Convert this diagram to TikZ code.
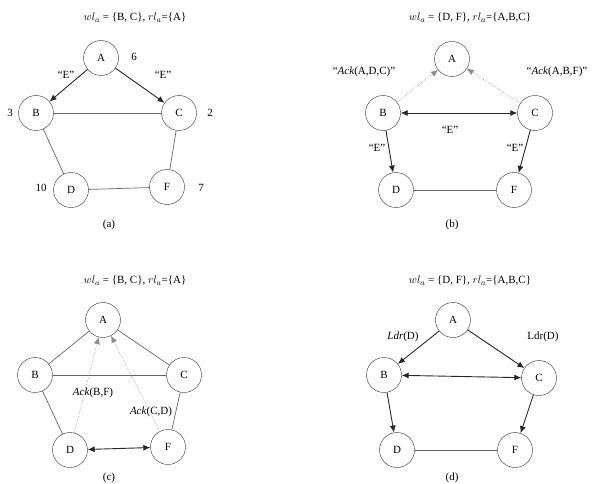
\documentclass[tikz,border=0pt]{standalone}
\usepackage{fontspec}
\setmainfont{Liberation Serif}
\usetikzlibrary{arrows.meta}
\begin{document}
\begin{tikzpicture}[x=1pt,y=-1pt,font=\fontsize{11}{13}\selectfont,
 nd/.style={circle,draw=black!80,minimum size=35pt,inner sep=0pt},
 ln/.style={draw=black!60,line width=0.7pt},
 ar/.style={draw=black!85,line width=0.9pt,-{Latex[length=7pt,width=6pt]}},
 da/.style={draw=black!85,line width=0.9pt,{Latex[length=7pt,width=6pt]}-{Latex[length=7pt,width=6pt]}},
 dt/.style={draw=black!45,line width=0.5pt,densely dotted,-{Latex[length=7pt,width=6pt]}},
 lb/.style={inner sep=1pt}]
\useasboundingbox (0,0) rectangle (605,484);
% (a)
\node[lb] (ta) at (135,18) {$wl_a$ = \{B, C\}, $rl_a$=\{A\}};
\node[nd] (aA) at (101,58) {A};
\node[nd] (aB) at (36,113) {B};
\node[nd] (aC) at (179,113) {C};
\node[nd] (aD) at (71,190) {D};
\node[nd] (aF) at (167,187) {F};
\draw[ar] (aA) -- (aB); \draw[ar] (aA) -- (aC);
\draw[ln] (aB) -- (aC); \draw[ln] (aB) -- (aD); \draw[ln] (aC) -- (aF); \draw[ln] (aD) -- (aF);
\node[lb] (a6) at (134,57) {6};
\node[lb] (a3) at (10,113) {3};
\node[lb] (a2) at (210,113) {2};
\node[lb] (a10) at (41,188) {10};
\node[lb] (a7) at (201,188) {7};
\node[lb] (aE1) at (66,75) {``E''};
\node[lb] (aE2) at (163,75) {``E''};
\node[lb] (ca) at (109,225) {(a)};
% (b)
\node[lb] (tb) at (470,18) {$wl_a$ = \{D, F\}, $rl_a$=\{A,B,C\}};
\node[nd] (bA) at (452,59) {A};
\node[nd] (bB) at (383,113) {B};
\node[nd] (bC) at (535,113) {C};
\node[nd] (bD) at (396,190) {D};
\node[nd] (bF) at (514,190) {F};
\draw[dt] (bB) -- (bA); \draw[dt] (bC) -- (bA);
\draw[da] (bB) -- (bC);
\draw[ar] (bB) -- (bD); \draw[ar] (bC) -- (bF);
\draw[ln] (bD) -- (bF);
\node[lb] (bl1) at (364,72) {``\textit{Ack}(A,D,C)''};
\node[lb] (bl2) at (557,72) {``\textit{Ack}(A,B,F)''};
\node[lb] (bE) at (450,130) {``E''};
\node[lb] (bE1) at (377,148) {``E''};
\node[lb] (bE2) at (515,148) {``E''};
\node[lb] (cb) at (452,225) {(b)};
% (c)
\node[lb] (tc) at (135,281) {$wl_a$ = \{B, C\}, $rl_a$=\{A\}};
\node[nd] (cA) at (103,320) {A};
\node[nd] (cB) at (35,375) {B};
\node[nd] (cC) at (184,375) {C};
\node[nd] (cD) at (70,450) {D};
\node[nd] (cF) at (168,447) {F};
\draw[ln] (cA) -- (cB); \draw[ln] (cA) -- (cC); \draw[ln] (cB) -- (cC);
\draw[ln] (cB) -- (cD); \draw[ln] (cC) -- (cF);
\draw[da] (cD) -- (cF);
\draw[dt] (cD) -- (cA); \draw[dt] (cF) -- (cA);
\node[lb] (cl1) at (93,393) {\textit{Ack}(B,F)};
\node[lb] (cl2) at (151,412) {\textit{Ack}(C,D)};
\node[lb,anchor=south] (cc) at (109,484) {(c)};
% (d)
\node[lb] (td) at (470,281) {$wl_a$ = \{D, F\}, $rl_a$=\{A,B,C\}};
\node[nd] (dA) at (453,320) {A};
\node[nd] (dB) at (384,375) {B};
\node[nd] (dC) at (539,378) {C};
\node[nd] (dD) at (397,450) {D};
\node[nd] (dF) at (515,450) {F};
\draw[ar] (dA) -- (dB); \draw[ar] (dA) -- (dC);
\draw[da] (dB) -- (dC);
\draw[ar] (dB) -- (dD); \draw[ar] (dC) -- (dF);
\draw[ln] (dD) -- (dF);
\node[lb] (dl1) at (403,337) {\textit{Ldr}(D)};
\node[lb] (dl2) at (543,337) {Ldr(D)};
\node[lb,anchor=south] (cd) at (452,484) {(d)};
\end{tikzpicture}
\end{document}
